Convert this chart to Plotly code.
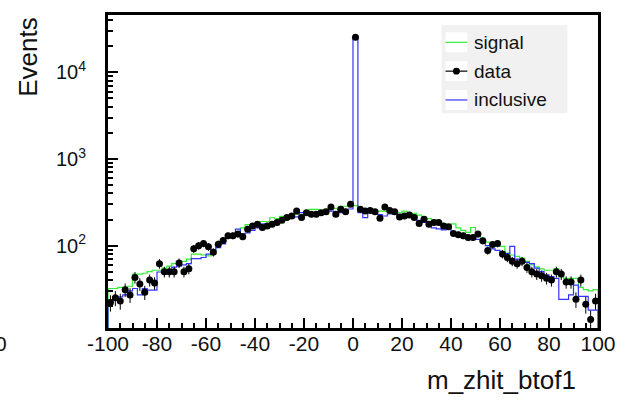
import numpy as np
import plotly.graph_objects as go

# ---------------- data ----------------
bin_edges_lo = -100
bin_width = 2
n_bins = 100

data_vals = [
    22, 25, 23, 31, 27, 43, 36, 29, 40, 37,
    62, 50, 50, 50, 63, 50, 54, 92, 100, 106,
    97, 84, 104, 115, 130, 130, 136, 127, 155, 169,
    177, 162, 169, 177, 185, 197, 211, 220, 251, 211,
    240, 230, 230, 240, 247, 279, 230, 263, 247, 300,
    25500, 263, 251, 255, 247, 207, 279, 255, 247, 214,
    220, 226, 211, 180, 202, 177, 185, 185, 169, 165,
    138, 134, 130, 124, 124, 136, 114, 88, 103, 106,
    80, 73, 66, 62, 66, 56, 50, 47, 45, 42,
    40, 50, 47, 38, 38, 24, 40, 21, 14, 23,
]

signal_vals = [
    32, 32, 33, 33, 34, 47, 47, 48, 50, 52,
    52, 55, 58, 62, 64, 66, 70, 80, 80, 78,
    76, 90, 105, 114, 125, 135, 140, 160, 175, 170,
    175, 190, 190, 210, 205, 218, 220, 222, 230, 240,
    245, 262, 262, 255, 262, 268, 270, 285, 285, 292,
    290, 265, 262, 258, 255, 250, 250, 245, 243, 240,
    251, 238, 236, 225, 215, 205, 200, 190, 180, 175,
    178, 160, 150, 142, 162, 130, 115, 110, 100, 100,
    98, 82, 78, 75, 72, 66, 60, 57, 54, 52,
    52, 54, 44, 42, 42, 42, 33, 31, 30, 31,
]

inclusive_vals = [
    23.5, 25.6, 25.6, 27, 30, 32, 27, 32, 30.6, 30.6,
    49.6, 50, 53, 56.5, 58, 60, 62, 71, 71, 73,
    80, 88, 95, 105, 127, 135, 155, 137, 140, 150,
    160, 178, 178, 180, 185, 195, 205, 211, 215, 240,
    225, 220, 225, 232, 240, 250, 220, 240, 255, 265,
    25500, 240, 211, 245, 245, 228, 220, 232, 235, 220,
    232, 232, 222, 196, 185, 185, 160, 156, 152, 165,
    140, 135, 130, 125, 120, 118, 110, 100, 92, 88,
    84, 81, 98, 70, 66, 64, 62, 55, 50, 46,
    44, 42, 24, 24, 27, 35, 26, 26, 18, 18,
]

x_tick_vals = [-100, -80, -60, -40, -20, 0, 20, 40, 60, 80, 100]
x_tick_text = ["-100", "-80", "-60", "-40", "-20", "0", "20", "40", "60", "80", "100"]
y_tick_vals = [100, 1000, 10000]
y_tick_text = ["10<sup>2</sup>", "10<sup>3</sup>", "10<sup>4</sup>"]
legend_labels = ["signal", "data", "inclusive"]
x_title = "m_zhit_btof1"
y_title = "Events"

# ---------------- geometry ----------------
W, H = 628, 401
L, R, T, B = 108, 603, 13, 328   # plot area in pixels
FONT = "Liberation Sans, Arial, Helvetica, sans-serif"
GREEN = "#33ee33"
BLUE = "#3333ff"


def px(xp):
    return (xp - L) / (R - L)


def py(yp):
    return (B - yp) / (B - T)


edges = bin_edges_lo + bin_width * np.arange(n_bins + 1)
centers = 0.5 * (edges[:-1] + edges[1:])


def step_xy(vals):
    vals = list(vals)
    xs = [edges[0], edges[0]] + list(edges[1:-1]) + [edges[-1], edges[-1]]
    ys = [1e-3, vals[0]] + vals[1:] + [vals[-1], 1e-3]
    return xs, ys


fig = go.Figure()

xs, ys = step_xy(signal_vals)
fig.add_trace(go.Scatter(x=xs, y=ys, mode="lines", line=dict(color=GREEN, width=1.2, shape="hv"),
                         name="signal", showlegend=False, hoverinfo="skip"))
xs, ys = step_xy(inclusive_vals)
fig.add_trace(go.Scatter(x=xs, y=ys, mode="lines", line=dict(color=BLUE, width=1.2, shape="hv"),
                         name="inclusive", showlegend=False, hoverinfo="skip"))

dv = np.array(data_vals, dtype=float)
fig.add_trace(go.Scatter(x=centers, y=dv, mode="markers",
                         marker=dict(color="black", size=7),
                         error_y=dict(type="data", array=np.sqrt(dv), color="black", thickness=1, width=0),
                         name="data", showlegend=False))

# ---------------- manual ROOT-like legend ----------------
shapes = []
annots = []
shapes.append(dict(type="rect", xref="paper", yref="paper", x0=px(445), x1=px(572), y0=py(112), y1=py(23),
                   fillcolor="#f1f1f1", line=dict(width=0), layer="above"))
rows_y = [40.5, 69.5, 98.5]
row_cols = [GREEN, "black", BLUE]
for lab, yy, col in zip(legend_labels, rows_y, row_cols):
    shapes.append(dict(type="rect", xref="paper", yref="paper", x0=px(449), x1=px(471), y0=py(yy + 10), y1=py(yy - 10),
                       fillcolor="white", line=dict(width=0), layer="above"))
    shapes.append(dict(type="line", xref="paper", yref="paper", x0=px(449), x1=px(471), y0=py(yy), y1=py(yy),
                       line=dict(color=col, width=1.2), layer="above"))
    if lab == "data":
        shapes.append(dict(type="circle", xref="paper", yref="paper", x0=px(456.5), x1=px(463.5),
                           y0=py(yy + 3.5), y1=py(yy - 3.5), fillcolor="black", line=dict(width=0), layer="above"))
    annots.append(dict(text=lab, xref="paper", yref="paper", x=px(476), y=py(yy), xanchor="left", yanchor="middle",
                       showarrow=False, font=dict(family=FONT, size=19, color="#111")))

# axis titles
annots.append(dict(text=x_title, xref="paper", yref="paper", x=px(583), y=py(380), xanchor="right",
                   yanchor="middle", showarrow=False, font=dict(family=FONT, size=26, color="#111")))
annots.append(dict(text=y_title, xref="paper", yref="paper", x=px(27), y=py(13), xanchor="center",
                   yanchor="top", textangle=-90, showarrow=False, font=dict(family=FONT, size=26, color="#111")))
# clipped label from neighbouring pad
annots.append(dict(text="0", xref="paper", yref="paper", x=px(8), y=py(344), xanchor="right",
                   yanchor="middle", showarrow=False, font=dict(family=FONT, size=21, color="#111")))

minor_x = [v for v in range(-95, 100, 5) if v % 20 != 0]
minor_y = [m * 10 ** e for e in range(1, 5) for m in range(2, 10) if 11 <= m * 10 ** e <= 46000]

fig.update_layout(
    width=W, height=H,
    margin=dict(l=L, r=W - R, t=T, b=H - B, pad=0),
    paper_bgcolor="white", plot_bgcolor="white",
    showlegend=False,
    shapes=shapes, annotations=annots,
    xaxis=dict(range=[-100, 100], tickmode="array", tickvals=x_tick_vals, ticktext=x_tick_text,
               ticks="inside", ticklen=10, tickwidth=2, tickcolor="black",
               minor=dict(tickmode="array", tickvals=minor_x, ticks="inside", ticklen=5, tickwidth=2, tickcolor="black"),
               showline=True, linecolor="black", linewidth=3, mirror=True,
               showgrid=False, zeroline=False,
               tickfont=dict(family=FONT, size=21, color="#111"), ticklabelstandoff=-5),
    yaxis=dict(type="log", range=[np.log10(11.2), np.log10(46000)], tickmode="array",
               tickvals=y_tick_vals, ticktext=y_tick_text,
               ticks="inside", ticklen=10, tickwidth=2, tickcolor="black",
               minor=dict(tickmode="array", tickvals=minor_y, ticks="inside", ticklen=5, tickwidth=2, tickcolor="black"),
               showline=True, linecolor="black", linewidth=3, mirror=True,
               showgrid=False, zeroline=False,
               tickfont=dict(family=FONT, size=20, color="#111"), ticklabelstandoff=15),
)

fig.write_html("out.html")
